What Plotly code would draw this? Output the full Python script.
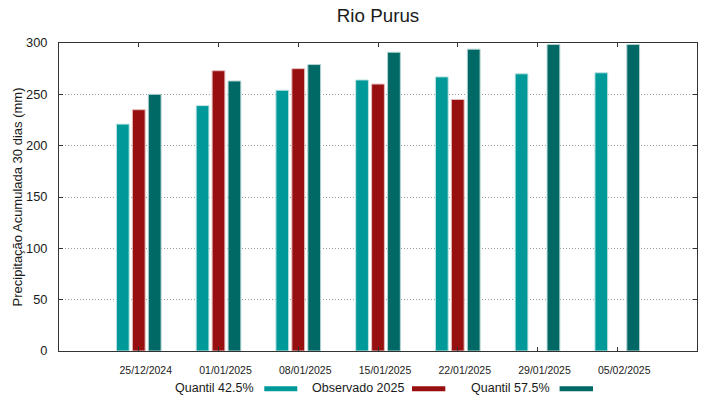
import plotly.graph_objects as go

categories = ["25/12/2024", "01/01/2025", "08/01/2025", "15/01/2025",
              "22/01/2025", "29/01/2025", "05/02/2025"]
quantil_425 = [221, 239, 254, 264, 267, 270, 271]
observado_2025 = [235, 273, 275, 260, 245, None, None]
quantil_575 = [250, 263, 279, 291, 294, 298.5, 298.5]
y_ticks = [0, 50, 100, 150, 200, 250, 300]

series_names = ["Quantil 42.5%", "Observado 2025", "Quantil 57.5%"]
series_values = [quantil_425, observado_2025, quantil_575]
series_colors = ["#009999", "#970f0f", "#006865"]
edge_colors = ["#bfe3e3", "#e6bcbc", "#b3d4d3"]

FONT = "Liberation Sans, Arial, sans-serif"

fig = go.Figure()
for name, vals, col, edge in zip(series_names, series_values, series_colors, edge_colors):
    fig.add_trace(go.Bar(
        x=categories, y=vals, name=name,
        marker=dict(color=col, line=dict(color=edge, width=1)),
        showlegend=False, hoverinfo="x+y+name",
    ))

# Plot area in pixels
W, H = 719, 399
L, R, T, B = 58.7, 22.3, 43.3, 48.3
pw = W - L - R
ph = H - T - B

def px(x):
    return (x - L) / pw

def py(y):
    return (H - B - y) / ph

# Custom gnuplot-style legend (text then swatch)
legend_items = [
    (256.0, 264.0, 297.0),
    (405.5, 411.7, 445.0),
    (551.7, 559.3, 592.7),
]
annotations = []
shapes = []
for (tx, s0, s1), name, col in zip(legend_items, series_names, series_colors):
    annotations.append(dict(
        x=px(tx), y=py(388), xref="paper", yref="paper",
        text=name, showarrow=False, xanchor="right", yanchor="middle",
        font=dict(family=FONT, size=12.5, color="#1a1a1a"),
    ))
    shapes.append(dict(
        type="rect", xref="paper", yref="paper",
        x0=px(s0), x1=px(s1), y0=py(390.8), y1=py(385.8),
        fillcolor=col, line=dict(width=0),
    ))

fig.update_layout(
    width=W, height=H,
    margin=dict(l=L, r=R, t=T, b=B, pad=0, autoexpand=False),
    paper_bgcolor="white", plot_bgcolor="white",
    barmode="group", bargap=0.4, bargroupgap=0.2,
    title=dict(text="Rio Purus", x=px((L + W - R) / 2), xref="paper",
               xanchor="center", y=1 - 15.5 / H, yanchor="middle",
               font=dict(family=FONT, size=18.8, color="#1a1a1a")),
    font=dict(family=FONT, color="#1a1a1a"),
    annotations=annotations,
    shapes=shapes,
)

fig.update_xaxes(
    type="category", range=[-1, 7], automargin=False,
    showline=True, linecolor="#333333", linewidth=1, mirror="ticks",
    ticks="inside", ticklen=4, tickcolor="#333333",
    showgrid=False, zeroline=False,
    tickfont=dict(family=FONT, size=10.5, color="#1a1a1a"),
    ticklabelshift=7, ticklabelstandoff=9,
)
fig.update_yaxes(
    range=[0, 300], tickvals=y_ticks, automargin=False,
    showline=True, linecolor="#333333", linewidth=1, mirror="ticks",
    ticks="inside", ticklen=4, tickcolor="#333333",
    showgrid=True, gridcolor="#9a9a9a", griddash="1px,2px", gridwidth=1,
    zeroline=False,
    tickfont=dict(family=FONT, size=12.8, color="#1a1a1a"),
    ticklabelstandoff=8,
    title=dict(text="Precipitação Acumulada 30 dias (mm)", standoff=0,
               font=dict(family=FONT, size=13, color="#1a1a1a")),
)

fig.write_html(
    "out.html",
    config={"displayModeBar": False},
    post_script="document.body.style.margin='0';document.body.style.padding='0';",
)
